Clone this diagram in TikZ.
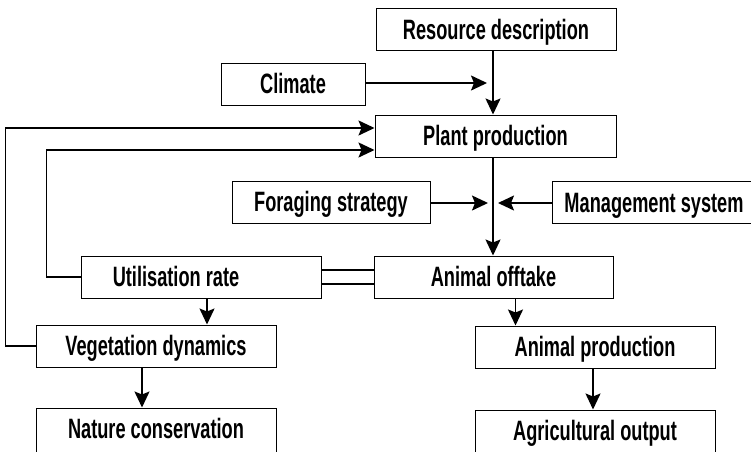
\documentclass[tikz,border=0pt]{standalone}
\usepackage{fontspec}
\setmainfont{Liberation Sans}[FakeStretch=0.65]
\usetikzlibrary{arrows.meta,positioning}

\begin{document}
\begin{tikzpicture}[
    x=1pt, y=-1pt,
    box/.style={rectangle, draw=black, line width=1pt, fill=white,
                minimum width=240pt, minimum height=42pt, inner sep=0pt,
                font=\fontsize{28}{28}\selectfont\bfseries,
                text height=20pt, text depth=1pt},
    cutbox/.style={box, minimum height=52pt, text depth=11pt},
    flow/.style={-{Stealth[length=16pt,width=15pt,inset=3pt]}, line width=1.6pt},
    link/.style={line width=1.6pt}
]

% Frame
\useasboundingbox (0,0) rectangle (751,451);
\clip (0,0) rectangle (751,451);
\fill[white] (0,0) rectangle (751,451);

% Boxes
\node[box]                        (res)   at (496,29.5) {Resource description};
\node[box, minimum width=144pt]   (clim)  at (293,84)   {Climate};
\node[box, minimum width=241pt]   (plant) at (495.5,136){Plant production};
\node[box, minimum width=198pt]   (forag) at (331,202)  {Foraging strategy};
\node[box, minimum width=204pt]   (manag) at (654,202.5){Management system};
\node[box]                        (util)  at (201,277)  {Utilisation rate\hspace*{50pt}};
\node[box, minimum width=239pt]   (offt)  at (493.5,277){Animal offtake};
\node[box]                        (vege)  at (156,346)  {Vegetation dynamics};
\node[box]                        (anim)  at (595,347)  {Animal production};
\node[cutbox]                     (nat)   at (156,434)  {Nature conservation};
\node[cutbox]                     (agri)  at (595,436)  {Agricultural output};

% Junctions on the main line
\coordinate (j1) at (493,83);
\coordinate (j2) at (493,203);

% Main chain
\draw[flow] (res.south -| j1) -- (plant.north -| j1);
\draw[flow, shorten >=6pt] (clim.east |- j1) -- (j1);
\draw[flow] (plant.south -| j2) -- (offt.north -| j2);
\draw[flow, shorten >=5pt] (forag.east |- j2) -- (j2);
\draw[flow, shorten >=5pt] (manag.west |- j2) -- (j2);

% Feedback loops
\draw[flow] (vege.west) -- ++(-30,0) |- ([yshift=8pt]plant.west);
\draw[flow] (util.west) -- ++(-34,0) |- ([yshift=-14pt]plant.west);

% Double link
\draw[link] ([yshift=7pt]util.east)  -- ([yshift=7pt]util.east -| offt.west);
\draw[link] ([yshift=-7pt]util.east) -- ([yshift=-7pt]util.east -| offt.west);

% Outputs
\draw[flow] ([xshift=6pt]util.south)   -- ([xshift=6pt]util.south |- vege.north);
\draw[flow] ([xshift=-14pt]vege.south) -- ([xshift=-14pt]vege.south |- nat.north);
\draw[flow] ([xshift=22pt]offt.south)  -- ([xshift=22pt]offt.south |- anim.north);
\draw[flow] ([xshift=-2pt]anim.south)  -- ([xshift=-2pt]anim.south |- agri.north);

\end{tikzpicture}
\end{document}
